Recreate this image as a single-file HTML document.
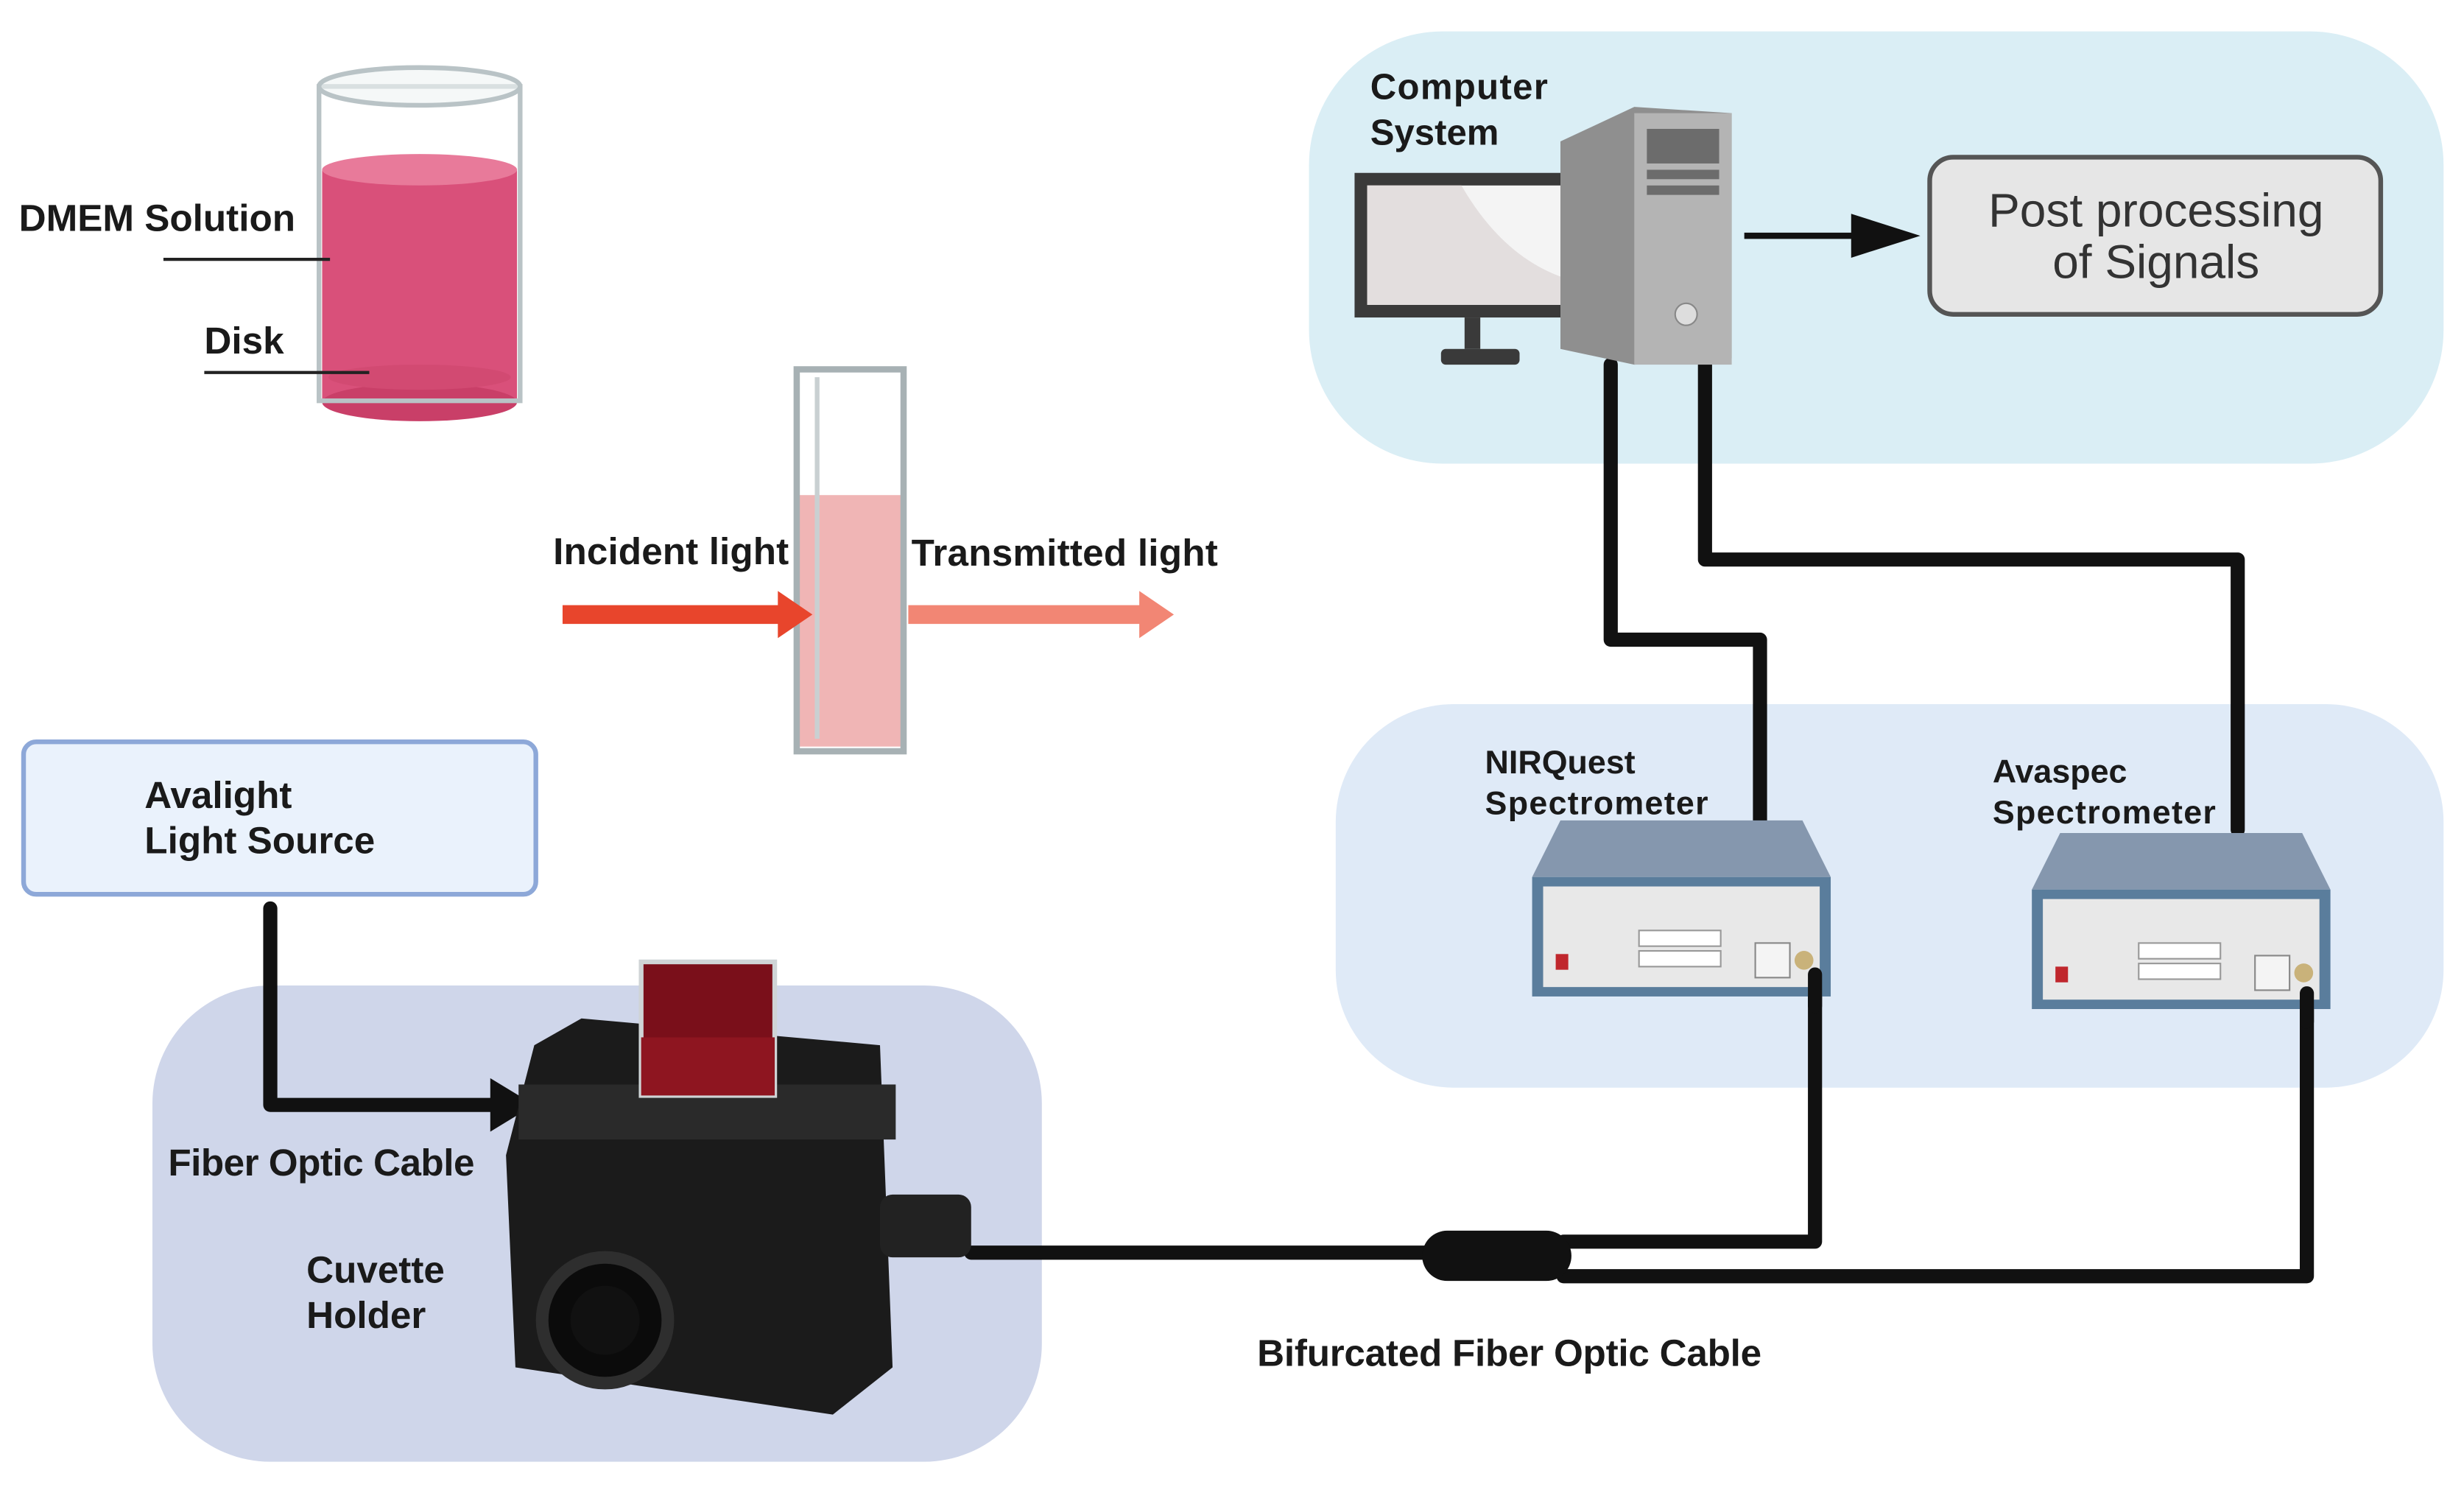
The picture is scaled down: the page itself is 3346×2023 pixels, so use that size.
<!DOCTYPE html>
<html><head><meta charset="utf-8"><style>
html,body{margin:0;padding:0;background:#fff}
svg{display:block}
text{font-family:"Liberation Sans",sans-serif;font-weight:bold;fill:#1a1a1a}
</style></head><body>
<svg width="3346" height="2023" viewBox="0 0 1568 948" preserveAspectRatio="none" xmlns="http://www.w3.org/2000/svg">
<rect width="1568" height="948" fill="#fff"/>
<!-- panels -->
<rect x="833" y="20" width="722" height="275" rx="85" fill="#daeef5"/>
<rect x="850" y="448" width="705" height="244" rx="75" fill="#dfeaf7"/>
<rect x="97" y="627" width="566" height="303" rx="75" fill="#cfd6ea"/>

<!-- beaker -->
<rect x="205" y="108" width="124" height="148" fill="#d9507a"/>
<ellipse cx="267" cy="108" rx="62" ry="10" fill="#e87a9a"/>
<ellipse cx="267" cy="256" rx="62" ry="12" fill="#c93f68"/>
<ellipse cx="267" cy="240" rx="58" ry="8" fill="#d24a72"/>
<rect x="203" y="55" width="128" height="200" fill="none" stroke="#b9c3c6" stroke-width="3"/>
<ellipse cx="267" cy="55" rx="64" ry="12" fill="#eef3f3" fill-opacity="0.6" stroke="#b9c3c6" stroke-width="3"/>
<line x1="104" y1="165" x2="210" y2="165" stroke="#222" stroke-width="2"/>
<line x1="130" y1="237" x2="235" y2="237" stroke="#222" stroke-width="2"/>
<text x="12" y="147" font-size="24">DMEM Solution</text>
<text x="130" y="225" font-size="24">Disk</text>

<!-- cuvette -->
<rect x="507" y="315" width="68" height="160" fill="#f0b5b5"/>
<rect x="507" y="235" width="68" height="243" fill="none" stroke="#a7b1b4" stroke-width="4"/>
<line x1="520" y1="240" x2="520" y2="470" stroke="#c9d0d2" stroke-width="3"/>
<!-- arrows -->
<line x1="358" y1="391" x2="498" y2="391" stroke="#e8452c" stroke-width="12"/>
<polygon points="495,376 517,391 495,406" fill="#e8452c"/>
<line x1="578" y1="391" x2="728" y2="391" stroke="#f28674" stroke-width="12"/>
<polygon points="725,376 747,391 725,406" fill="#f28674"/>
<text x="352" y="359" font-size="24" textLength="150">Incident light</text>
<text x="580" y="360" font-size="24" textLength="195">Transmitted light</text>

<!-- Avalight -->
<rect x="15" y="472" width="326" height="97" rx="8" fill="#eaf2fc" stroke="#8da8d8" stroke-width="3"/>
<text x="92" y="514" font-size="24">Avalight</text>
<text x="92" y="543" font-size="24">Light Source</text>

<!-- cables -->
<g fill="none" stroke="#111" stroke-width="9" stroke-linejoin="round" stroke-linecap="round">
<path d="M172,578 V703 H318"/>
<path d="M1025,232 V407 H1120 V522"/>
<path d="M1085,232 V356 H1424 V528"/>
<path d="M618,797 H910"/>
<path d="M995,790 H1155 V620"/>
<path d="M995,812 H1468 V632"/>
</g>
<polygon points="312,686 340,703 312,720" fill="#111"/>
<rect x="905" y="783" width="95" height="32" rx="16" fill="#111"/>
<text x="107" y="748" font-size="24" textLength="195">Fiber Optic Cable</text>
<text x="195" y="816" font-size="24">Cuvette</text>
<text x="195" y="845" font-size="24">Holder</text>
<text x="800" y="869" font-size="24" textLength="321">Bifurcated Fiber Optic Cable</text>

<!-- cuvette holder -->
<polygon points="340,665 370,648 560,665 568,870 530,900 328,870 322,735" fill="#1b1b1b"/>
<rect x="330" y="690" width="240" height="35" fill="#2a2a2a"/>
<rect x="408" y="612" width="85" height="85" fill="#7a0f1a" stroke="#cfd4d6" stroke-width="3"/>
<rect x="408" y="660" width="85" height="37" fill="#8e1520"/>
<circle cx="385" cy="840" r="40" fill="#0b0b0b" stroke="#2e2e2e" stroke-width="8"/>
<circle cx="385" cy="840" r="22" fill="#111"/>
<rect x="560" y="760" width="58" height="40" rx="8" fill="#222"/>

<!-- computer -->
<rect x="862" y="110" width="153" height="92" fill="#3a3a3a"/>
<rect x="870" y="118" width="137" height="76" fill="#f4f4f4"/>
<path d="M870,118 H930 Q960,170 1007,180 V194 H870 Z" fill="#e3dede"/>
<rect x="932" y="202" width="10" height="20" fill="#3a3a3a"/>
<rect x="917" y="222" width="50" height="10" rx="3" fill="#3a3a3a"/>
<polygon points="993,90 1040,68 1102,72 1102,228 1040,232 993,222" fill="#8f8f8f"/>
<rect x="1040" y="72" width="62" height="160" fill="#b4b4b4"/>
<rect x="1048" y="82" width="46" height="22" fill="#6c6c6c"/>
<rect x="1048" y="108" width="46" height="6" fill="#6c6c6c"/>
<rect x="1048" y="118" width="46" height="6" fill="#6c6c6c"/>
<circle cx="1073" cy="200" r="7" fill="#ddd" stroke="#888"/>
<text x="872" y="63" font-size="23" textLength="113">Computer</text>
<text x="872" y="92" font-size="23">System</text>
<line x1="1110" y1="150" x2="1190" y2="150" stroke="#111" stroke-width="4"/>
<polygon points="1178,136 1222,150 1178,164" fill="#111"/>
<rect x="1228" y="100" width="287" height="100" rx="15" fill="#e6e6e6" stroke="#555" stroke-width="3"/>
<text x="1372" y="144" font-size="30" text-anchor="middle" style="font-weight:normal;fill:#333">Post processing</text>
<text x="1372" y="177" font-size="30" text-anchor="middle" style="font-weight:normal;fill:#333">of Signals</text>

<!-- spectrometers -->
<g id="sp">
<polygon points="993,522 1147,522 1165,558 975,558" fill="#8597ae"/>
<rect x="975" y="558" width="190" height="76" fill="#5a7d9c"/>
<rect x="982" y="564" width="176" height="64" fill="#e8e8e8"/>
<rect x="990" y="607" width="8" height="10" fill="#c0272d"/>
<rect x="1043" y="592" width="52" height="10" fill="#fff" stroke="#999"/>
<rect x="1043" y="605" width="52" height="10" fill="#fff" stroke="#999"/>
<rect x="1117" y="600" width="22" height="22" fill="#f4f4f4" stroke="#888"/>
<circle cx="1148" cy="611" r="6" fill="#c9b27a"/>
</g>
<use href="#sp" transform="translate(318,8)"/>
<text x="945" y="492" font-size="21">NIRQuest</text>
<text x="945" y="518" font-size="21" textLength="142">Spectrometer</text>
<text x="1268" y="498" font-size="21">Avaspec</text>
<text x="1268" y="524" font-size="21" textLength="142">Spectrometer</text>
<g stroke="#111" stroke-width="9" stroke-linecap="round"><line x1="1155" y1="620" x2="1155" y2="640"/><line x1="1468" y1="632" x2="1468" y2="650"/></g>
</svg>
</body></html>
